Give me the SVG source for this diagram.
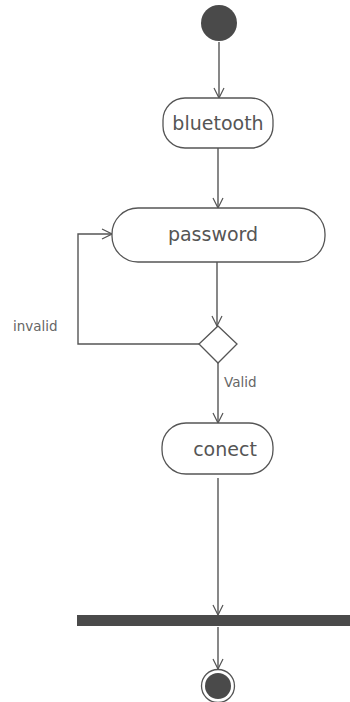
<svg xmlns="http://www.w3.org/2000/svg" width="350" height="702" viewBox="0 0 350 702">
<style>
.node{fill:#fff;stroke:#555;stroke-width:1.3}
.lbl{font-family:"DejaVu Sans",sans-serif;font-size:19px;fill:#555;text-anchor:middle}
.small{font-family:"DejaVu Sans",sans-serif;font-size:13.5px;fill:#666}
.edge{fill:none;stroke:#555;stroke-width:1.4}
.solid{fill:#4a4a4a}
</style>
<defs>
<marker id="arr" markerWidth="12" markerHeight="12" refX="11" refY="6" orient="auto" markerUnits="userSpaceOnUse">
<path d="M1,1 L11,6 L1,11" fill="none" stroke="#555" stroke-width="1.2"/>
</marker>
</defs>
<rect width="350" height="702" fill="#fff"/>
<g id="connectors">
<line class="edge" x1="219" y1="42" x2="219" y2="98" marker-end="url(#arr)"/>
<line class="edge" x1="218" y1="148" x2="218" y2="208" marker-end="url(#arr)"/>
<line class="edge" x1="217" y1="262" x2="217" y2="326" marker-end="url(#arr)"/>
<polyline class="edge" points="200,344 78,344 78,234 112,234" marker-end="url(#arr)"/>
<line class="edge" x1="218" y1="363" x2="218" y2="423" marker-end="url(#arr)"/>
<line class="edge" x1="218" y1="478" x2="218" y2="615" marker-end="url(#arr)"/>
<line class="edge" x1="218" y1="627" x2="218" y2="669" marker-end="url(#arr)"/>
<text class="small" x="13" y="331">invalid</text>
<text class="small" x="224" y="387">Valid</text>
</g>
<g id="start"><circle class="solid" cx="219" cy="23" r="18"/></g>
<g id="bluetooth">
<rect class="node" x="163" y="98" width="110" height="50" rx="22"/>
<text class="lbl" x="218" y="130">bluetooth</text>
</g>
<g id="password">
<rect class="node" x="112" y="208" width="213" height="54" rx="26"/>
<text class="lbl" x="213" y="241">password</text>
</g>
<g id="decision">
<polygon class="node" points="218,326 237,344 218,363 199,344"/>
</g>
<g id="conect">
<rect class="node" x="162" y="423" width="111" height="51" rx="24"/>
<text class="lbl" x="225" y="456">conect</text>
</g>
<g id="bar"><rect class="solid" x="77" y="615" width="273" height="11"/></g>
<g id="end">
<circle cx="218" cy="686" r="16.5" fill="#fff" stroke="#555" stroke-width="1.3"/>
<circle class="solid" cx="218" cy="686" r="13"/>
</g>
</svg>
